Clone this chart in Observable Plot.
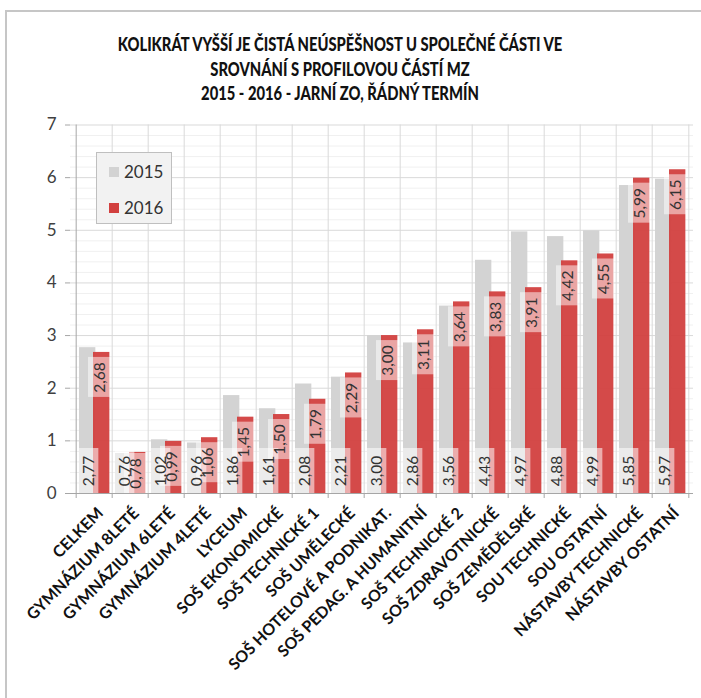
<!DOCTYPE html>
<html>
<head>
<meta charset="utf-8">
<script src="https://cdn.jsdelivr.net/npm/d3@7"></script>
<script src="https://cdn.jsdelivr.net/npm/@observablehq/plot@0.6"></script>
<style>
  html, body { margin: 0; padding: 0; background: #fff; }
  body { width: 701px; height: 698px; position: relative; overflow: hidden; font-family: Lato, "Open Sans", sans-serif; }
  #frame { position: absolute; left: 5px; top: 10px; width: 720px; height: 720px; border-left: 2px solid #c6c6c6; border-top: 2px solid #c6c6c6; box-sizing: border-box; }
  #title { position: absolute; left: 0; top: 32px; width: 680px; text-align: center; font-weight: 900; font-size: 18px; line-height: 24.5px; color: #111; transform: scaleX(0.82); transform-origin: 340px 0; }
  #chart { position: absolute; left: 0; top: 0; }
  #legend { position: absolute; left: 96px; top: 152px; width: 76px; height: 72px; background: #f2f2f2; border: 1px solid #bfbfbf; box-sizing: border-box; font-size: 17px; color: #333; }
  .li { position: absolute; left: 12px; display: flex; align-items: center; }
  .sw { width: 10px; height: 10px; margin-right: 5px; }
</style>
</head>
<body>
<div id="frame"></div>
<div id="chart"></div>
<div id="title">KOLIKRÁT VYŠŠÍ JE ČISTÁ NEÚSPĚŠNOST U SPOLEČNÉ ČÁSTI VE<br>SROVNÁNÍ S PROFILOVOU ČÁSTÍ MZ<br>2015 - 2016 - JARNÍ ZO, ŘÁDNÝ TERMÍN</div>
<div id="legend"></div>
<script>
const categories = ["CELKEM", "GYMNÁZIUM 8LETÉ", "GYMNÁZIUM 6LETÉ", "GYMNÁZIUM 4LETÉ", "LYCEUM", "SOŠ EKONOMICKÉ", "SOŠ TECHNICKÉ 1", "SOŠ UMĚLECKÉ", "SOŠ HOTELOVÉ A PODNIKAT.", "SOŠ PEDAG. A HUMANITNÍ", "SOŠ TECHNICKÉ 2", "SOŠ ZDRAVOTNICKÉ", "SOŠ ZEMĚDĚLSKÉ", "SOU TECHNICKÉ", "SOU OSTATNÍ", "NÁSTAVBY TECHNICKÉ", "NÁSTAVBY OSTATNÍ"];
const values2015 = [2.77, 0.76, 1.02, 0.96, 1.86, 1.61, 2.08, 2.21, 3.00, 2.86, 3.56, 4.43, 4.97, 4.88, 4.99, 5.85, 5.97];
const values2016 = [2.68, 0.78, 0.99, 1.06, 1.45, 1.50, 1.79, 2.29, 3.00, 3.11, 3.64, 3.83, 3.91, 4.42, 4.55, 5.99, 6.15];
const seriesNames = ["2015", "2016"];
const seriesColors = ["#d3d3d3", "#d2403f"];
const yTicks = [0, 1, 2, 3, 4, 5, 6, 7];

const W = 701, H = 698;
const mL = 70, mR = 8, mT = 124.5, mB = 205;
const bw = (W - mL - mR) / categories.length;
const k = (H - mT - mB) / 7;
const fmt = v => v.toFixed(2).replace(".", ",");

const data = categories.map((c, i) => {
  const a = values2015[i], b = values2016[i];
  let top = b - 5 / k, bot = top - 40 / k;
  if (bot < 0) { bot = 0; top = 40 / k; }
  return {c, a, b, rTop: top, rBot: bot, rMid: (top + bot) / 2};
});
const minor = d3.range(0, 35).map(i => i / 5).filter(v => Math.abs(v - Math.round(v)) > 1e-6);
const last = categories[categories.length - 1];

const chart = Plot.plot({
  width: W, height: H,
  marginLeft: mL, marginRight: mR, marginTop: mT, marginBottom: mB,
  style: {fontFamily: "Lato, 'Open Sans', sans-serif", color: "#404040", background: "transparent"},
  x: {type: "band", domain: categories, padding: 0, axis: null},
  y: {domain: [0, 7], axis: null},
  marks: [
    Plot.ruleY(minor, {stroke: "#f0f0f0"}),
    Plot.ruleY(yTicks.slice(1), {stroke: "#d9d9d9"}),
    Plot.ruleX(categories.slice(1), {x: d => d, dx: -bw / 2, y1: 0, y2: 7, stroke: "#d9d9d9"}),
    Plot.ruleX([last], {x: d => d, dx: bw / 2, y1: 0, y2: 7, stroke: "#d9d9d9"}),
    Plot.barY(data, {x: "c", y: "a", fill: seriesColors[0], insetLeft: 3, insetRight: bw - 20}),
    Plot.barY(data, {x: "c", y: "b", fill: seriesColors[1], fillOpacity: 0.95, insetLeft: 17, insetRight: bw - 34}),
    Plot.barY(data, {x: "c", y1: 0, y2: 45 / k, fill: "white", fillOpacity: 0.55, insetLeft: 3, insetRight: bw - 23}),
    Plot.barY(data, {x: "c", y1: "rBot", y2: "rTop", fill: "white", fillOpacity: 0.5, insetLeft: 12, insetRight: bw - 35}),
    Plot.text(data, {x: "c", y: d => 22.5 / k, text: d => fmt(d.a), rotate: -90, dx: -5.3, fontSize: 15.5, fill: "#333"}),
    Plot.text(data, {x: "c", y: "rMid", text: d => fmt(d.b), rotate: -90, dx: 6, fontSize: 15.5, fill: "#333"}),
    Plot.ruleY([0], {stroke: "#a6a6a6"}),
    Plot.ruleX([categories[0]], {x: d => d, dx: -bw / 2, y1: 0, y2: 7, stroke: "#a6a6a6"}),
    Plot.ruleX(categories, {x: d => d, dx: -bw / 2, y1: 0, y2: -5 / k, stroke: "#a6a6a6"}),
    Plot.ruleX([last], {x: d => d, dx: bw / 2, y1: 0, y2: -5 / k, stroke: "#a6a6a6"}),
    Plot.axisY({ticks: yTicks, tickSize: 5, tickPadding: 9, fontSize: 17, label: null, stroke: "#a6a6a6", tickFormat: d => String(d)}),
    Plot.text(categories, {x: d => d, y: d => 0, text: d => d, rotate: -45, textAnchor: "end", dx: 6, dy: 17, fontSize: 16, fontWeight: "bold", fill: "#111"})
  ]
});
document.getElementById("chart").appendChild(chart);

const legend = document.getElementById("legend");
seriesNames.forEach((name, i) => {
  const item = document.createElement("div");
  item.className = "li";
  item.style.top = (i === 0 ? 8 : 44) + "px";
  item.innerHTML = `<span class="sw" style="background:${seriesColors[i]}"></span><span>${name}</span>`;
  legend.appendChild(item);
});
</script>
</body>
</html>
